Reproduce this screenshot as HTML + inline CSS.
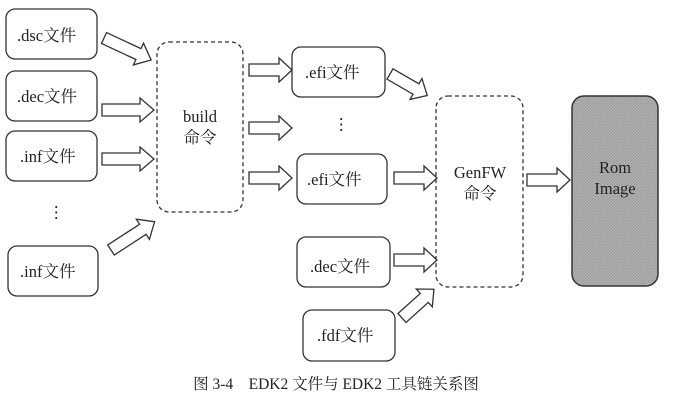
<!DOCTYPE html>
<html><head><meta charset="utf-8"><style>
body{margin:0;background:#fff;width:673px;height:409px;overflow:hidden}
svg text{font-family:"Liberation Serif","Noto Serif CJK SC",serif;fill:#222}
</style></head><body>
<svg width="673" height="409" viewBox="0 0 673 409" xmlns="http://www.w3.org/2000/svg">
<defs>
<pattern id="h" width="3" height="3" patternUnits="userSpaceOnUse"><rect width="3" height="3" fill="#b4b4b4"/><path d="M0 3L3 0" stroke="#989898" stroke-width="1"/></pattern>
<path id="ar" d="M0,-6 L38,-6 L38,-12 L52,0 L38,12 L38,6 L0,6 Z" fill="#fff" stroke="#333" stroke-width="1.3"/>
<path id="as" d="M0,-6 L30,-6 L30,-12 L43,0 L30,12 L30,6 L0,6 Z" fill="#fff" stroke="#333" stroke-width="1.3"/>
</defs>
<g fill="#fff" stroke="#333" stroke-width="1.3">
<rect x="6" y="9" width="91" height="50" rx="9"/>
<rect x="6" y="71" width="91" height="50" rx="9"/>
<rect x="6" y="131" width="91" height="50" rx="9"/>
<rect x="8" y="246" width="90" height="50" rx="9"/>
<rect x="292" y="47" width="93" height="50" rx="9"/>
<rect x="297" y="154" width="90" height="50" rx="9"/>
<rect x="297" y="237" width="93" height="50" rx="9"/>
<rect x="303" y="310" width="92" height="51" rx="9"/>
<rect x="157" y="42" width="86" height="170" rx="12" stroke-dasharray="4,3"/>
<rect x="436" y="96" width="87" height="191" rx="12" stroke-dasharray="4,3"/>
<rect x="572" y="96" width="86" height="190" rx="12" fill="url(#h)" stroke-width="1.5"/>
</g>
<g font-size="16.5">
<text x="17" y="41">.dsc文件</text>
<text x="17" y="102">.dec文件</text>
<text x="20" y="162">.inf文件</text>
<text x="20" y="277">.inf文件</text>
<text x="305" y="78">.efi文件</text>
<text x="307" y="185">.efi文件</text>
<text x="310" y="272">.dec文件</text>
<text x="317" y="341">.fdf文件</text>
<text x="200" y="122" text-anchor="middle">build</text>
<text x="200" y="143" text-anchor="middle">命令</text>
<text x="480" y="178" text-anchor="middle">GenFW</text>
<text x="480" y="199" text-anchor="middle">命令</text>
<text x="615" y="173" text-anchor="middle">Rom</text>
<text x="615" y="194" text-anchor="middle">Image</text>
<text x="48" y="218">⋮</text>
<text x="333" y="130">⋮</text>
</g>
<use href="#ar" transform="translate(104,38) rotate(25)"/>
<use href="#ar" transform="translate(102,110)"/>
<use href="#ar" transform="translate(102,159)"/>
<use href="#ar" transform="translate(111,250) rotate(-33)"/>
<use href="#as" transform="translate(249,70)"/>
<use href="#as" transform="translate(249,128)"/>
<use href="#as" transform="translate(249,178)"/>
<use href="#as" transform="translate(390,74) rotate(30)"/>
<use href="#as" transform="translate(394,178)"/>
<use href="#as" transform="translate(394,260)"/>
<use href="#as" transform="translate(402,318) rotate(-42)"/>
<use href="#as" transform="translate(527,180)"/>
<text x="336" y="389" font-size="15.5" text-anchor="middle">图 3-4　EDK2 文件与 EDK2 工具链关系图</text>
</svg>
</body></html>
